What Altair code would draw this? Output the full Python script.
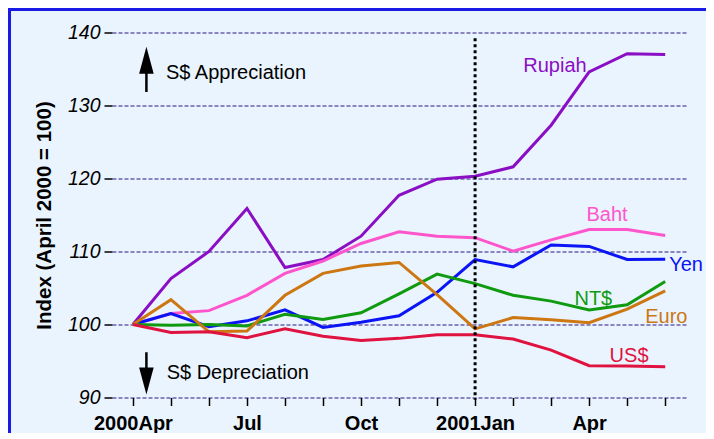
import altair as alt
import pandas as pd

# ---- data (index April 2000 = 100), months Apr 2000 .. Jun 2001 ----
months = list(range(15))
x_tick_labels = {0: "2000Apr", 3: "Jul", 6: "Oct", 9: "2001Jan", 12: "Apr"}
y_ticks = [90, 100, 110, 120, 130, 140]

series_names = ["Rupiah", "Baht", "Yen", "NT$", "Euro", "US$"]
series_colors = ["#8A0FC4", "#FF55CC", "#0A14F5", "#109A10", "#CC7711", "#E0123F"]

rupiah = [100, 106.3, 110.0, 115.9, 107.8, 108.9, 112.1, 117.7, 119.9, 120.3, 121.6, 127.3, 134.6, 137.1, 137.0]
baht = [100, 101.5, 101.9, 104.0, 107.0, 108.7, 111.1, 112.7, 112.1, 111.9, 110.05, 111.6, 113.0, 113.0, 112.2]
yen = [100, 101.5, 99.7, 100.5, 102.0, 99.6, 100.3, 101.2, 104.4, 108.9, 107.9, 110.9, 110.7, 108.9, 108.95]
ntd = [100, 99.9, 100.0, 99.8, 101.4, 100.7, 101.6, 104.2, 106.9, 105.6, 104.0, 103.2, 102.0, 102.7, 105.9]
euro = [100, 103.4, 99.0, 99.1, 104.0, 107.0, 108.0, 108.5, 104.1, 99.4, 100.95, 100.65, 100.25, 102.1, 104.6]
usd = [100, 98.9, 99.0, 98.2, 99.4, 98.4, 97.8, 98.1, 98.6, 98.6, 98.0, 96.5, 94.35, 94.3, 94.2]

series_values = [rupiah, baht, yen, ntd, euro, usd]

# label positions (month index, index value)
label_x = [11.1, 12.47, 14.55, 12.11, 14.03, 13.05]
label_y = [135.4, 114.94, 108.2, 103.55, 101.04, 95.73]

FONT = "Liberation Sans"

rows = []
for name, vals in zip(series_names, series_values):
    for m, v in zip(months, vals):
        rows.append({"s": name, "m": m, "v": v})
df = pd.DataFrame(rows)

lab_df = pd.DataFrame({"s": series_names, "m": label_x, "v": label_y})

x_scale = alt.Scale(domain=[-0.55, 14.6], nice=False, zero=False)
y_scale = alt.Scale(domain=[90, 140], nice=False, zero=False)
color_scale = alt.Scale(domain=series_names, range=series_colors)

label_expr = " : ".join(
    f"datum.value == {k} ? '{v}'" for k, v in x_tick_labels.items()
) + " : ''"

x_axis = alt.Axis(
    values=months, labelExpr=label_expr, title=None, grid=False, domain=False,
    ticks=True, tickSize=8, tickWidth=1.5, tickColor="black",
    labelFont=FONT, labelFontSize=20, labelFontWeight="bold", labelColor="black",
    labelPadding=8, labelOverlap=False, labelFlush=False,
)
y_axis = alt.Axis(
    values=y_ticks, title="Index (April 2000 = 100)", grid=True,
    gridColor="#2A1580", gridDash=[4, 2], gridWidth=1, domain=False,
    tickSize=8, tickWidth=1.5, tickColor="black",
    labelFont=FONT, labelFontSize=19.5, labelFontStyle="italic", labelColor="black",
    labelPadding=4, titleFont=FONT, titleFontSize=20.5, titleFontWeight="bold",
    titleColor="black", titlePadding=13,
)

lines = alt.Chart(df).mark_line(strokeWidth=3).encode(
    x=alt.X("m:Q", scale=x_scale, axis=x_axis),
    y=alt.Y("v:Q", scale=y_scale, axis=y_axis),
    color=alt.Color("s:N", scale=color_scale, legend=None),
    order=alt.Order("m:Q"),
)

labels = alt.Chart(lab_df).mark_text(font=FONT, fontSize=20, align="center", baseline="middle").encode(
    x=alt.X("m:Q", scale=x_scale),
    y=alt.Y("v:Q", scale=y_scale),
    text="s:N",
    color=alt.Color("s:N", scale=color_scale, legend=None),
)

one = pd.DataFrame({"a": [0]})

vline = alt.Chart(one).mark_rule(color="black", strokeWidth=3, strokeDash=[3, 3]).encode(
    x=alt.datum(9), y=alt.datum(139.2), y2=alt.datum(89.7)
)

up_shaft = alt.Chart(one).mark_rule(color="black", strokeWidth=2.5).encode(
    x=alt.datum(0.355), y=alt.datum(134.7), y2=alt.datum(131.85)
)
up_head = alt.Chart(one).mark_point(
    shape="M 0 -1 L 0.54 1 L -0.54 1 Z", size=729, filled=True, color="black", opacity=1
).encode(x=alt.datum(0.355), y=alt.datum(136.2))
down_shaft = alt.Chart(one).mark_rule(color="black", strokeWidth=2.5).encode(
    x=alt.datum(0.355), y=alt.datum(96.2), y2=alt.datum(93.9)
)
down_head = alt.Chart(one).mark_point(
    shape="M 0 1 L 0.54 -1 L -0.54 -1 Z", size=729, filled=True, color="black", opacity=1
).encode(x=alt.datum(0.355), y=alt.datum(92.26))

notes = pd.DataFrame({"t": ["S$ Appreciation", "S$ Depreciation"], "m": [0.868, 0.887], "v": [134.46, 93.3]})
note_text = alt.Chart(notes).mark_text(font=FONT, fontSize=20, align="left", baseline="middle", color="black").encode(
    x=alt.X("m:Q", scale=x_scale), y=alt.Y("v:Q", scale=y_scale), text="t:N"
)

border = alt.Chart(one).mark_rect(fillOpacity=0, stroke="#1A1AE6", strokeWidth=3).encode(
    x=alt.value(-102.5), x2=alt.value(700), y=alt.value(-23), y2=alt.value(520)
)

chart = alt.layer(
    lines, vline, up_shaft, up_head, down_shaft, down_head, note_text, labels, border
).properties(
    width=576, height=365,
    autosize=alt.AutoSizeParams(type="none"),
    padding={"left": 104, "top": 24.5, "right": 18, "bottom": 35},
    background="#EAF4FE",
).configure_view(stroke=None, fill="#EAF4FE")

chart.save("out.html", embed_options={"renderer": "svg", "actions": False})
